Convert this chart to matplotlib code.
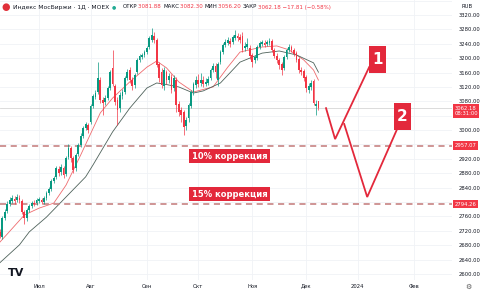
import matplotlib
matplotlib.use('Agg')
import matplotlib.pyplot as plt
from matplotlib.patches import Rectangle
import numpy as np
import pandas as pd

# daily candles, IMOEX, from 2023-06-08 to 2023-12-08
opens = [2695, 2717, 2703, 2756, 2775, 2795, 2803, 2809, 2806, 2811,
         2803, 2772, 2756, 2778, 2789, 2797, 2797, 2803, 2806, 2800,
         2811, 2825, 2836, 2858, 2870, 2892, 2883, 2895, 2878, 2925,
         2950, 2922, 2895, 2934, 2959, 2984, 3006, 3014, 3022, 3067,
         3092, 3106, 3139, 3084, 3078, 3089, 3117, 3173, 3123, 3084,
         3061, 3095, 3106, 3145, 3167, 3139, 3125, 3162, 3195, 3203,
         3209, 3217, 3231, 3250, 3262, 3250, 3184, 3162, 3123, 3162,
         3139, 3148, 3117, 3139, 3073, 3056, 3050, 3011, 3034, 3067,
         3106, 3125, 3139, 3131, 3139, 3128, 3131, 3145, 3167, 3178,
         3139, 3189, 3217, 3237, 3242, 3248, 3245, 3256, 3262, 3259,
         3262, 3228, 3231, 3228, 3209, 3195, 3200, 3231, 3239, 3242,
         3239, 3242, 3248, 3223, 3206, 3195, 3184, 3173, 3203, 3223,
         3231, 3223, 3214, 3198, 3167, 3164, 3148, 3112, 3120, 3136,
         3067, 3081.88]
highs = [2722, 2725, 2761, 2781, 2803, 2814, 2820, 2817, 2822, 2820,
         2808, 2778, 2783, 2795, 2803, 2806, 2811, 2814, 2811, 2817,
         2831, 2842, 2864, 2872, 2900, 2900, 2906, 2900, 2928, 2961,
         2956, 2928, 2936, 2964, 2992, 3011, 3022, 3020, 3073, 3100,
         3111, 3189, 3148, 3092, 3098, 3123, 3167, 3223, 3128, 3092,
         3106, 3114, 3150, 3170, 3175, 3148, 3159, 3200, 3212, 3214,
         3223, 3234, 3262, 3284, 3273, 3256, 3189, 3173, 3175, 3167,
         3159, 3156, 3153, 3148, 3081, 3064, 3056, 3036, 3075, 3112,
         3134, 3150, 3156, 3159, 3150, 3145, 3150, 3173, 3187, 3187,
         3189, 3223, 3242, 3253, 3259, 3256, 3264, 3278, 3270, 3267,
         3273, 3245, 3256, 3237, 3214, 3209, 3237, 3248, 3250, 3250,
         3250, 3256, 3253, 3228, 3214, 3200, 3189, 3209, 3228, 3239,
         3237, 3228, 3220, 3203, 3175, 3170, 3153, 3131, 3139, 3142,
         3084, 3082.30]
lows = [2686, 2700, 2697, 2750, 2770, 2789, 2797, 2795, 2800, 2797,
        2767, 2739, 2747, 2772, 2783, 2789, 2792, 2797, 2795, 2795,
        2806, 2820, 2831, 2853, 2864, 2872, 2875, 2867, 2872, 2920,
        2911, 2881, 2886, 2928, 2953, 2978, 3000, 2992, 3017, 3061,
        3086, 3100, 3075, 3042, 3070, 3084, 3112, 3123, 3070, 3014,
        3050, 3086, 3100, 3139, 3131, 3112, 3117, 3156, 3189, 3198,
        3203, 3212, 3225, 3245, 3242, 3175, 3134, 3117, 3112, 3128,
        3131, 3103, 3109, 3050, 3039, 3022, 2986, 3000, 3022, 3061,
        3098, 3117, 3120, 3123, 3120, 3123, 3125, 3139, 3162, 3145,
        3123, 3184, 3212, 3231, 3237, 3231, 3239, 3250, 3248, 3242,
        3217, 3220, 3225, 3198, 3175, 3187, 3195, 3225, 3234, 3231,
        3234, 3237, 3217, 3200, 3187, 3170, 3153, 3167, 3198, 3217,
        3217, 3206, 3189, 3159, 3153, 3136, 3106, 3103, 3112, 3070,
        3042, 3056.20]
closes = [2717, 2706, 2756, 2772, 2795, 2806, 2811, 2803, 2814, 2806,
          2772, 2756, 2778, 2789, 2797, 2795, 2806, 2809, 2800, 2811,
          2825, 2836, 2858, 2867, 2895, 2881, 2897, 2875, 2922, 2950,
          2922, 2889, 2931, 2959, 2984, 3006, 3017, 3000, 3067, 3095,
          3103, 3145, 3084, 3075, 3089, 3117, 3162, 3128, 3078, 3056,
          3098, 3106, 3145, 3162, 3139, 3123, 3153, 3195, 3206, 3209,
          3217, 3228, 3256, 3264, 3250, 3181, 3145, 3125, 3167, 3139,
          3150, 3112, 3145, 3070, 3050, 3042, 3009, 3028, 3070, 3106,
          3128, 3139, 3128, 3139, 3128, 3134, 3142, 3167, 3178, 3162,
          3184, 3217, 3237, 3245, 3250, 3239, 3259, 3264, 3256, 3250,
          3223, 3234, 3239, 3206, 3189, 3203, 3231, 3242, 3245, 3237,
          3245, 3248, 3223, 3206, 3195, 3181, 3167, 3203, 3223, 3231,
          3223, 3211, 3195, 3167, 3162, 3145, 3117, 3123, 3131, 3075,
          3073, 3062.18]

# moving averages (bar index, value)
ma_fast_idx = [0, 4, 11, 17, 23, 28, 34, 42, 47, 54, 61, 65, 69, 74, 80, 88, 94, 99, 108, 114, 119, 125, 129, 131]
ma_fast = [2681, 2711, 2764, 2783, 2797, 2847, 2931, 3048, 3089, 3134, 3175, 3192, 3173, 3134, 3106, 3120,
           3175, 3217, 3231, 3234, 3223, 3195, 3167, 3139]
ma_slow_idx = [0, 9, 13, 20, 28, 36, 39, 47, 54, 61, 65, 68, 74, 80, 84, 91, 99, 108, 115, 122, 129, 131]
ma_slow = [2625, 2681, 2717, 2758, 2814, 2870, 2903, 2995, 3061, 3117, 3131, 3128, 3120, 3103, 3109, 3131,
           3189, 3214, 3220, 3209, 3187, 3161]

# drawn scenarios
path1_x = [134.1, 137.8, 151.7]
path1_y = [3061, 2975, 3175]
path2_x = [141.5, 150.9, 163.5]
path2_y = [3017, 2814, 3009]

level_10 = 2957.07
level_15 = 2794.26
last_price = 3062.18

month_labels = ['Июл', 'Авг', 'Сен', 'Окт', 'Ноя', 'Дек', '2024', 'Фев']
price_ticks = [2600, 2640, 2680, 2720, 2760, 2840, 2880, 2920, 3000, 3080, 3120, 3160, 3200, 3240, 3280, 3320]

UP = '#089981'
DOWN = '#f23645'
RED = '#e3283b'
TXT = '#131722'
YLO, YHI = 2583.3, 3361.7

dates = pd.bdate_range('2023-06-08', '2024-03-10')
month_pos = [i for i in range(1, len(dates)) if dates[i].month != dates[i - 1].month][:len(month_labels)]

fig = plt.figure(figsize=(4.8, 2.92), dpi=100)
ax = fig.add_axes([0, 12 / 292, 452 / 480, 280 / 292])
ax.set_xlim(1.06, 185.5)
ax.set_ylim(YLO, YHI)

# grid
for p in range(2600, 3361, 40):
    ax.axhline(p, color='#f0f2f6', lw=0.6, zorder=0)
for m in month_pos:
    ax.axvline(m, color='#f0f2f6', lw=0.6, zorder=0)

ax.axhline(last_price, color='#d6d6d6', lw=0.6, zorder=1)

o = np.array(opens)
c = np.array(closes)
idx = np.arange(len(c))
cols = np.where(c >= o, UP, DOWN)
ax.vlines(idx, lows, highs, colors=cols, lw=0.5, zorder=3)
ax.bar(idx, np.maximum(np.abs(c - o), 1.2), bottom=np.minimum(o, c), width=0.72,
       color=cols, lw=0, zorder=4)

ax.plot(ma_fast_idx, ma_fast, color='#ef6b6e', lw=0.6, zorder=2)
ax.plot(ma_slow_idx, ma_slow, color='#4f625b', lw=0.6, zorder=2)

for lvl in (level_10, level_15):
    ax.axhline(lvl, color='#c27878', lw=1.1, ls=(0, (4, 3)), zorder=2)

ax.plot(path1_x, path1_y, color=RED, lw=1.3, zorder=5, solid_joinstyle='miter')
ax.plot(path2_x, path2_y, color=RED, lw=1.3, zorder=5, solid_joinstyle='miter')

box = dict(boxstyle='square,pad=0.3', fc=RED, ec='none')
ax.text(94.7, 2928, '10% коррекция', color='white', fontsize=6, fontweight='bold',
        ha='center', va='center', bbox=box, zorder=6)
ax.text(94.7, 2821, '15% коррекция', color='white', fontsize=6, fontweight='bold',
        ha='center', va='center', bbox=box, zorder=6)

# numbered marks: boxes of ~17x27 px
for (bx, by), num in (((151.6, 3159), '1'), ((161.8, 3000), '2')):
    ax.add_patch(Rectangle((bx, by), 7.0, 75, fc=RED, ec='none', zorder=6))
    ax.text(bx + 3.5, by + 37, num, color='white', fontsize=11, fontweight='bold',
            ha='center', va='center', zorder=7)

for s in ax.spines.values():
    s.set_visible(False)
ax.yaxis.tick_right()
ax.set_yticks(price_ticks)
ax.set_yticklabels([f'{p:.2f}' for p in price_ticks])
ax.set_xticks([])
ax.tick_params(axis='y', length=0, labelsize=3.8, pad=4.5, labelcolor=TXT)

# month labels on a common baseline
for m, name in zip(month_pos, month_labels):
    ax.text(m, -0.027, name, transform=ax.get_xaxis_transform(), color=TXT, fontsize=3.8,
            ha='center', va='baseline')

# price labels on the scale
lab = dict(boxstyle='square,pad=0.3', fc=DOWN, ec='none')
ax.text(1.005, (last_price - YLO) / (YHI - YLO) - 0.012, '3062.18\n08:31:00',
        transform=ax.transAxes, color='white', fontsize=3.8, ha='left', va='center',
        linespacing=1.1, bbox=lab)
for lvl in (level_10, level_15):
    ax.text(1.005, (lvl - YLO) / (YHI - YLO), f'{lvl:.2f}', transform=ax.transAxes,
            color='white', fontsize=3.8, ha='left', va='center', bbox=lab)

# header
hy = 1 - 7 / 292
fig.text(6 / 480, hy, '●', color='#e0303a', fontsize=7, ha='center', va='center')
fig.text(13 / 480, hy, 'Индекс МосБиржи · 1Д · MOEX', color=TXT, fontsize=4.3, va='center')
fig.text(114 / 480, hy, '●', color='#22ab94', fontsize=3.5, ha='center', va='center')
header = [('ОТКР', TXT), ('3081.88 ', DOWN), ('МАКС', TXT), ('3082.30 ', DOWN),
          ('МИН', TXT), ('3056.20 ', DOWN), ('ЗАКР', TXT), ('3062.18 −17.81 (−0.58%)', DOWN)]
renderer = fig.canvas.get_renderer()
x = 123
for t, col in header:
    tx = fig.text(x / 480, hy, t, color=col, fontsize=3.95, va='center')
    x += tx.get_window_extent(renderer).width + 0.5
fig.text(462 / 480, 1 - 6 / 292, 'RUB', color=TXT, fontsize=3.8, va='center')
fig.text(8 / 480, 1 - 273 / 292, 'TV', color='#131722', fontsize=8, fontweight='heavy', va='center')
fig.text(468 / 480, 1 - 287 / 292, '⚙', color='#555555', fontsize=5, ha='center', va='center')

fig.savefig('out.png', dpi=100)
